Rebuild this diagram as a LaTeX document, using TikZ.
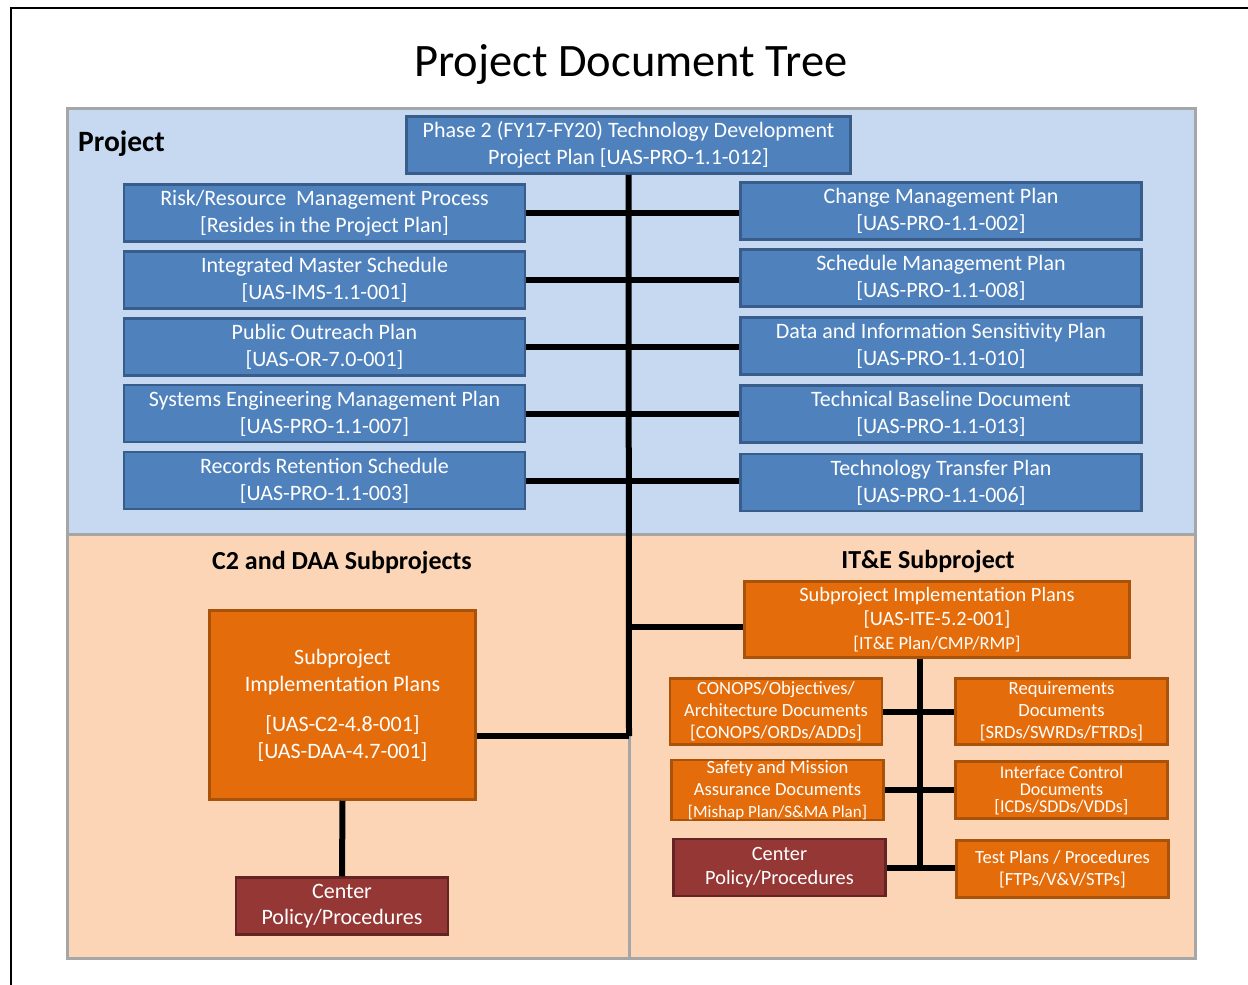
\documentclass[tikz,border=0pt]{standalone}
\usepackage{fontspec}
\setmainfont{Carlito}
\definecolor{bfill}{HTML}{4F81BD}
\definecolor{bline}{HTML}{385D8A}
\definecolor{bgblue}{HTML}{C6D9F0}
\definecolor{bgpeach}{HTML}{FBD5B5}
\definecolor{ofill}{HTML}{E46C0A}
\definecolor{oline}{HTML}{A9530A}
\definecolor{rfill}{HTML}{953735}
\definecolor{rline}{HTML}{632523}
\definecolor{regline}{HTML}{A6A6A6}
\begin{document}
\begin{tikzpicture}[x=1pt,y=-1pt,
  region/.style={draw=regline,line width=3pt},
  boxbase/.style={rectangle,line width=2.5pt,text=white,align=center,inner sep=0pt},
  bluebox/.style={boxbase,draw=bline,fill=bfill,minimum width=401pt,minimum height=57pt,font=\fontsize{22}{27}\selectfont},
  orangebox/.style={boxbase,draw=oline,fill=ofill},
  redbox/.style={boxbase,draw=rline,fill=rfill},
  smallbox/.style={minimum width=212pt,minimum height=57pt,font=\fontsize{18.6}{22}\selectfont},
  conn/.style={line width=6pt,black},
  sectlabel/.style={font=\fontsize{26}{30}\selectfont\bfseries,inner sep=0pt}]
\useasboundingbox (0,0) rectangle (1248,985);
% frame
\draw[line width=2.5pt] (11,985) -- (11,8) -- (1248,8);
% regions
\draw[region,fill=bgblue] (67,108) rectangle (1195,534);
\draw[region,fill=bgpeach] (67,534) rectangle (629,958);
\draw[region,fill=bgpeach] (629,534) rectangle (1195,958);
% titles
\node[font=\fontsize{46.5}{52}\selectfont,inner sep=0pt] (title) at (631,64) {Project Document Tree};
\node[font=\fontsize{29.5}{34}\selectfont\bfseries,anchor=west,inner sep=0pt] (projlbl) at (78,144) {Project};
\node[sectlabel] (c2lbl) at (342,563) {C2 and DAA Subprojects};
\node[sectlabel] (itelbl) at (928,562) {IT\&E Subproject};
% project boxes
\node[bluebox,minimum width=444pt] (top) at (628.5,145) {Phase 2 (FY17-FY20) Technology Development\\Project Plan [UAS-PRO-1.1-012]};
\node[bluebox] (L1) at (324.5,213) {Risk/Resource\ \ Management Process\\{}[Resides in the Project Plan]};
\node[bluebox] (L2) at (324.5,280) {Integrated Master Schedule\\{}[UAS-IMS-1.1-001]};
\node[bluebox] (L3) at (324.5,347) {Public Outreach Plan\\{}[UAS-OR-7.0-001]};
\node[bluebox] (L4) at (324.5,413.5) {Systems Engineering Management Plan\\{}[UAS-PRO-1.1-007]};
\node[bluebox] (L5) at (324.5,480.5) {Records Retention Schedule\\{}[UAS-PRO-1.1-003]};
\node[bluebox] (R1) at (941,211) {Change Management Plan\\{}[UAS-PRO-1.1-002]};
\node[bluebox] (R2) at (941,278) {Schedule Management Plan\\{}[UAS-PRO-1.1-008]};
\node[bluebox] (R3) at (941,346) {Data and Information Sensitivity Plan\\{}[UAS-PRO-1.1-010]};
\node[bluebox] (R4) at (941,414) {Technical Baseline Document\\{}[UAS-PRO-1.1-013]};
\node[bluebox] (R5) at (941,482.5) {Technology Transfer Plan\\{}[UAS-PRO-1.1-006]};
% C2 and DAA
\node[orangebox,minimum width=266pt,minimum height=189pt,font=\fontsize{22}{27}\selectfont] (C2) at (342.5,705) {Subproject\\Implementation Plans\\[13pt]{}[UAS-C2-4.8-001]\\{}[UAS-DAA-4.7-001]};
\node[redbox,minimum width=212pt,minimum height=57pt,font=\fontsize{22}{26}\selectfont] (CP1) at (342,906) {Center\\Policy/Procedures};
% IT&E
\node[orangebox,minimum width=385pt,minimum height=76pt,font=\fontsize{20.4}{24}\selectfont] (ITE) at (937,619.5) {Subproject Implementation Plans\\{}[UAS-ITE-5.2-001]\\{\fontsize{18.5}{24}\selectfont[IT\&E Plan/CMP/RMP]}};
\node[orangebox,smallbox,minimum height=66pt] (CON) at (776,711.5) {CONOPS/Objectives/\\Architecture Documents\\{}[CONOPS/ORDs/ADDs]};
\node[orangebox,smallbox] (SAF) at (777.5,790) {Safety and Mission\\Assurance Documents\\{\fontsize{17}{22}\selectfont[Mishap Plan/S\&MA Plan]}};
\node[redbox,smallbox,font=\fontsize{20.3}{24}\selectfont] (CP2) at (779.5,867.5) {Center\\Policy/Procedures};
\node[orangebox,smallbox,minimum height=66pt] (REQ) at (1061.5,711.5) {Requirements\\Documents\\{}[SRDs/SWRDs/FTRDs]};
\node[orangebox,smallbox,font=\fontsize{18}{17}\selectfont] (ICD) at (1061.5,790) {Interface Control\\Documents\\{}[ICDs/SDDs/VDDs]};
\node[orangebox,smallbox] (TP) at (1062.5,869) {Test Plans / Procedures\\{}[FTPs/V\&V/STPs]};
% connectors, project
\coordinate (j1) at (629,736);
\coordinate (j2) at (629,627);
\draw[conn] (top.south) -- (j1);
\draw[conn] (L1.east) -- (L1.east -| R1.west);
\draw[conn] (L2.east) -- (L2.east -| R2.west);
\draw[conn] (L3.east) -- (L3.east -| R3.west);
\draw[conn] (L4.east) -- (L4.east -| R4.west);
\draw[conn] (L5.east) -- (L5.east -| R5.west);
\draw[conn] (j1) -- (j1 -| C2.east);
\draw[conn] (j2) -- (j2 -| ITE.west);
\draw[conn] (C2.south) -- (CP1.north);
% connectors, IT&E
\coordinate (k1) at (920,869);
\draw[conn,line width=6.5pt] (ITE.south -| k1) -- (k1);
\draw[conn] (CON.east) -- (CON.east -| REQ.west);
\draw[conn] (SAF.east) -- (SAF.east -| ICD.west);
\draw[conn] (CP2.east) -- (CP2.east -| TP.west);
\end{tikzpicture}
\end{document}
